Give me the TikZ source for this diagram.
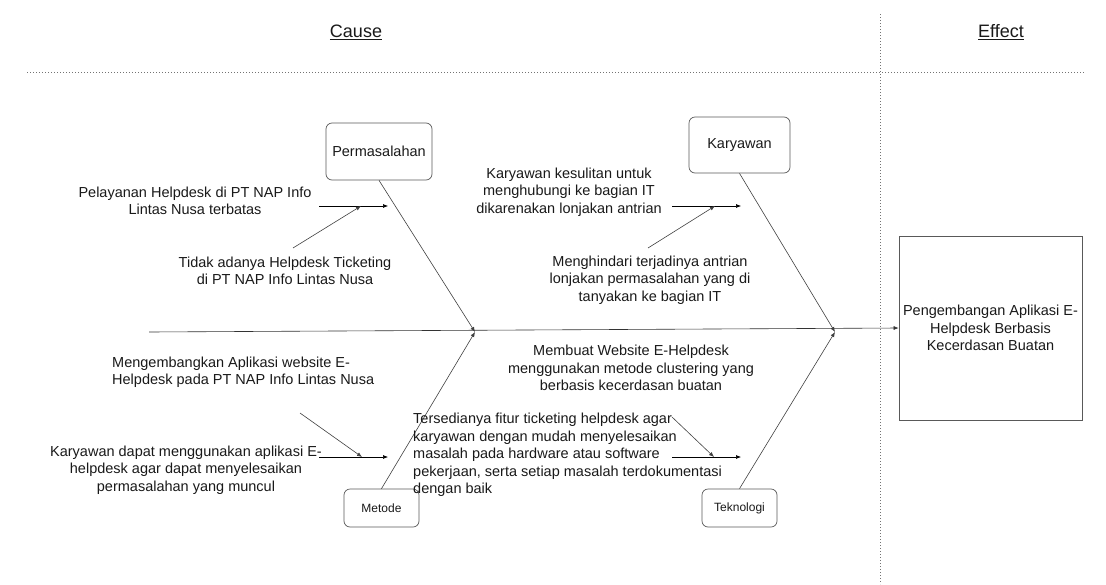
\documentclass[tikz,border=0pt]{standalone}
\usepackage{fontspec}
\setmainfont{Liberation Sans}
\usetikzlibrary{arrows.meta}

\begin{document}
\begin{tikzpicture}[x=1pt,y=-1pt,
  lbl/.style={font=\fontsize{14.5}{17.5}\selectfont, align=center, inner sep=0pt, text=black!90},
  lblleft/.style={lbl, align=left},
  head/.style={font=\fontsize{18}{20}\selectfont, inner sep=0pt, text=black!90},
  catbox/.style={draw=black!65, line width=0.7pt, rounded corners=6pt, inner sep=0pt, text=black!90},
  bone/.style={draw=black!75, line width=0.6pt, -{Latex[length=5pt,width=4pt]}},
  twig/.style={draw=black, line width=0.6pt, -{Latex[length=5pt,width=4pt]}},
  divider/.style={draw=black!55, line width=0.8pt, dash pattern=on 1pt off 2pt}]
\useasboundingbox (0,0) rectangle (1106,584);

% headings and dividers
\node[head] (cause) at (356,32) {\underline{Cause}};
\node[head] (effectlbl) at (1001,32) {\underline{Effect}};
\draw[divider] (27,72) -- (1085,72);
\draw[divider] (880,14) -- (880,584);

% category boxes
\node[catbox, minimum width=106pt, minimum height=57pt, font=\fontsize{14.5}{16}\selectfont] (perm) at (379,151.5) {Permasalahan};
\node[catbox, minimum width=101pt, minimum height=56pt, font=\fontsize{14.5}{16}\selectfont] (kary) at (739.5,145) {Karyawan};
\node[catbox, minimum width=75pt, minimum height=38pt, font=\fontsize{12}{14}\selectfont] (metode) at (381.5,508) {Metode};
\node[catbox, minimum width=75pt, minimum height=38pt, font=\fontsize{12}{14}\selectfont] (tekno) at (739.5,508) {Teknologi};

% effect
\node[draw=black!65, line width=0.7pt, minimum width=183pt, minimum height=184pt, lbl] (effect) at (990.5,328)
  {Pengembangan Aplikasi E-\\Helpdesk Berbasis\\Kecerdasan Buatan};

% spine
\coordinate (tail) at (149,332);
\coordinate (j1) at (475,332);
\coordinate (j2) at (835,332);
\draw[twig, draw=black!80] (tail) -- (effect.west);
\draw[bone] (perm.south) -- (j1);
\draw[bone] (metode.north) -- (j1);
\draw[bone] (kary.south) -- (j2);
\draw[bone] (tekno.north) -- (j2);

% Permasalahan causes
\node[lbl] (pelayanan) at (195,201) {Pelayanan Helpdesk di PT NAP Info\\Lintas Nusa terbatas};
\node[lbl] (tidak) at (285,271) {Tidak adanya Helpdesk Ticketing\\di PT NAP Info Lintas Nusa};
\coordinate (pa) at (319,206);
\coordinate (pb) at (388,206);
\coordinate (pc) at (293,248);
\coordinate (pd) at (361,206);
\draw[twig] (pa) -- (pb);
\draw[bone] (pc) -- (pd);

% Karyawan causes
\node[lbl] (kesulitan) at (569,192) {Karyawan kesulitan untuk\\menghubungi ke bagian IT\\dikarenakan lonjakan antrian};
\node[lbl] (menghindari) at (650,280) {Menghindari terjadinya antrian\\lonjakan permasalahan yang di\\tanyakan ke bagian IT};
\coordinate (ka) at (672,206);
\coordinate (kb) at (741,206);
\coordinate (kc) at (648,248);
\coordinate (kd) at (715,206);
\draw[twig] (ka) -- (kb);
\draw[bone] (kc) -- (kd);

% Metode causes
\node[lblleft, anchor=west] (mengembangkan) at (112,372) {Mengembangkan Aplikasi website E-\\Helpdesk pada PT NAP Info Lintas Nusa};
\node[lbl] (dapat) at (186,470) {Karyawan dapat menggunakan aplikasi E-\\helpdesk agar dapat menyelesaikan\\permasalahan yang muncul};
\coordinate (ma) at (319,457);
\coordinate (mb) at (388,457);
\coordinate (mc) at (300,413);
\coordinate (md) at (362,457);
\draw[twig] (ma) -- (mb);
\draw[bone] (mc) -- (md);

% Teknologi causes
\node[lbl] (membuat) at (631,368) {Membuat Website E-Helpdesk\\menggunakan metode clustering yang\\berbasis kecerdasan buatan};
\node[lblleft, anchor=west] (tersedia) at (413,455) {Tersedianya fitur ticketing helpdesk agar\\karyawan dengan mudah menyelesaikan\\masalah pada hardware atau software\\pekerjaan, serta setiap masalah terdokumentasi\\dengan baik};
\coordinate (ta) at (672,457);
\coordinate (tb) at (741,457);
\coordinate (tc) at (672,417);
\coordinate (td) at (714,457);
\draw[twig] (ta) -- (tb);
\draw[bone] (tc) -- (td);
\end{tikzpicture}
\end{document}
